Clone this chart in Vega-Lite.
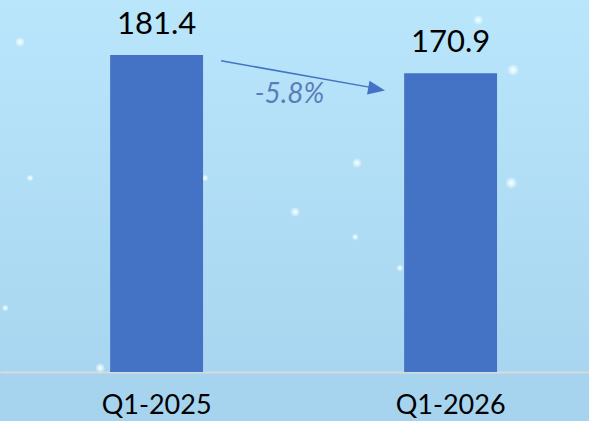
{
  "$schema": "https://vega.github.io/schema/vega-lite/v6.json",
  "width": 589,
  "height": 372,
  "autosize": {"type": "none"},
  "padding": {"left": 0, "top": 0, "right": 0, "bottom": 49},
  "background": "#a6d4ef",
  "view": {
    "stroke": null,
    "fill": {
      "gradient": "linear",
      "x1": 0, "y1": 0, "x2": 0, "y2": 1,
      "stops": [
        {"offset": 0, "color": "#b9e6fb"},
        {"offset": 1, "color": "#a8d6f0"}
      ]
    }
  },
  "datasets": {
    "bars": [
      {"q": "Q1-2025", "v": 181.4},
      {"q": "Q1-2026", "v": 170.9}
    ],
    "arrow": [
      {"from": "Q1-2025", "to": "Q1-2026", "y1": 178.1, "y2": 162.3, "tipY": 161.9, "label": "-5.8%", "labelY": 153.9}
    ],
    "dots": [
      {"px": 3.4, "py": 188.8, "glow": "small"},
      {"px": 5.1, "py": 111.0, "glow": "tiny"},
      {"px": 34.8, "py": 111.0, "glow": "tiny"},
      {"px": 50.1, "py": 91.6, "glow": "small"},
      {"px": 60.6, "py": 119.6, "glow": "small"},
      {"px": 60.3, "py": 77.3, "glow": "tiny"},
      {"px": 67.9, "py": 59.5, "glow": "tiny"},
      {"px": 81.2, "py": 201.4, "glow": "small"},
      {"px": 87.1, "py": 172.8, "glow": "big"},
      {"px": 86.8, "py": 108.2, "glow": "big"},
      {"px": 17.0, "py": 2.3, "glow": "small"},
      {"px": 0.9, "py": 36.6, "glow": "tiny"}
    ]
  },
  "resolve": {"scale": {"x": "independent", "size": "independent"}, "axis": {"x": "independent"}},
  "layer": [
    {
      "data": {"name": "dots"},
      "mark": {
        "type": "point",
        "shape": "circle",
        "filled": true,
        "opacity": 1,
        "fill": {
          "gradient": "radial",
          "stops": [
            {"offset": 0, "color": "rgba(255,255,255,1)"},
            {"offset": 0.4, "color": "rgba(235,255,255,0.75)"},
            {"offset": 1, "color": "rgba(255,255,255,0)"}
          ]
        }
      },
      "encoding": {
        "x": {"field": "px", "type": "quantitative", "scale": {"domain": [0, 100], "nice": false, "zero": false}, "axis": null},
        "y": {"field": "py", "type": "quantitative", "scale": {"domain": [0, 212.87], "nice": false}, "axis": null},
        "size": {"field": "glow", "type": "nominal", "scale": {"domain": ["tiny", "small", "big"], "range": [50, 150, 400]}, "legend": null}
      }
    },
    {
      "layer": [
        {
          "data": {"name": "bars"},
          "mark": {"type": "bar", "color": "#4472c4"},
          "encoding": {
            "x": {
              "field": "q", "type": "nominal", "sort": null,
              "scale": {"paddingInner": 0.684, "paddingOuter": 0.3437, "align": 0.545},
              "axis": {
                "title": null, "labelAngle": 0, "ticks": false,
                "domainColor": "#d6dadc", "domainWidth": 2,
                "labelFont": "Lato", "labelFontSize": 27, "labelColor": "#000000",
                "labelBaseline": "alphabetic", "labelPadding": 41, "grid": false
              }
            },
            "y": {"field": "v", "type": "quantitative", "scale": {"domain": [0, 212.87], "nice": false}, "axis": null}
          }
        },
        {
          "data": {"name": "bars"},
          "mark": {"type": "text", "font": "Lato", "fontSize": 31, "color": "#000000", "baseline": "alphabetic", "dy": -21},
          "encoding": {
            "x": {"field": "q", "type": "nominal", "sort": null},
            "y": {"field": "v", "type": "quantitative"},
            "text": {"field": "v", "type": "quantitative", "format": ".1f"}
          }
        },
        {
          "data": {"name": "arrow"},
          "mark": {"type": "rule", "color": "#4472c4", "strokeWidth": 1.5, "xOffset": 18, "x2Offset": -28},
          "encoding": {
            "x": {"field": "from", "type": "nominal", "bandPosition": 1},
            "x2": {"field": "to", "bandPosition": 0},
            "y": {"field": "y1", "type": "quantitative"},
            "y2": {"field": "y2"}
          }
        },
        {
          "data": {"name": "arrow"},
          "mark": {"type": "point", "shape": "M-1,-0.82L1,0L-1,0.82Z", "filled": true, "opacity": 1, "color": "#4472c4", "size": 289, "angle": 10, "xOffset": -27.5},
          "encoding": {
            "x": {"field": "to", "type": "nominal", "bandPosition": 0},
            "y": {"field": "tipY", "type": "quantitative"}
          }
        },
        {
          "data": {"name": "arrow"},
          "mark": {"type": "text", "font": "Lato", "fontSize": 28, "fontStyle": "italic", "color": "#5a7dba", "baseline": "alphabetic", "align": "center", "dx": 133},
          "encoding": {
            "x": {"field": "from", "type": "nominal"},
            "y": {"field": "labelY", "type": "quantitative"},
            "text": {"field": "label"}
          }
        }
      ]
    }
  ]
}
